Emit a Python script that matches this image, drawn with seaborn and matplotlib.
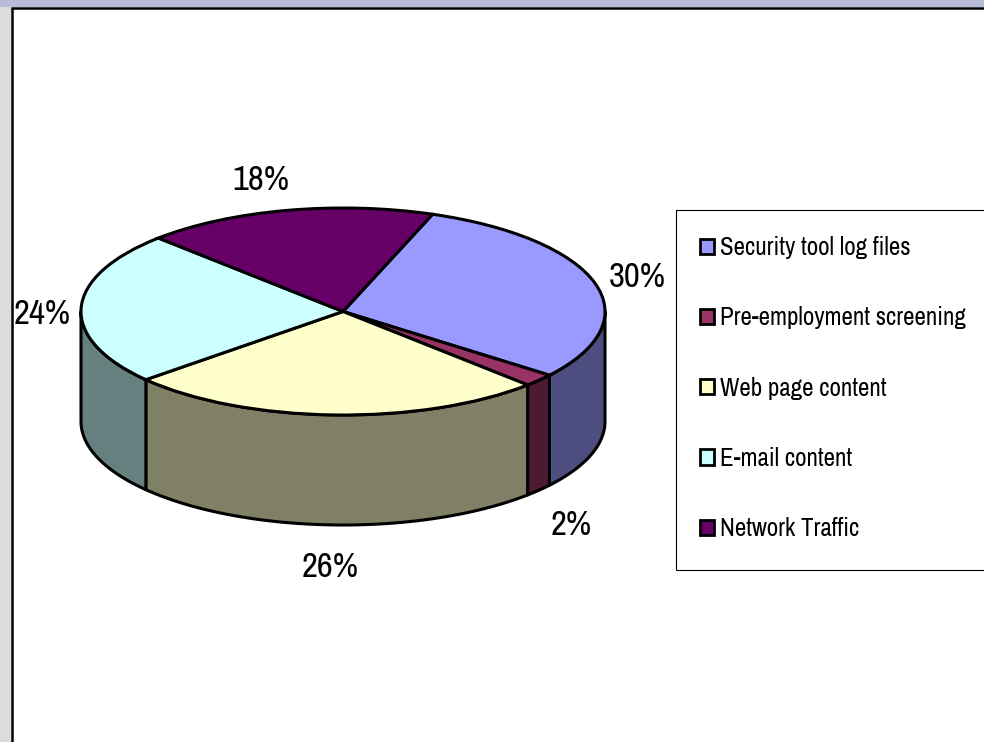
import numpy as np
import matplotlib
matplotlib.use("Agg")
import matplotlib.pyplot as plt
from matplotlib.patches import Patch, Rectangle, Polygon
import seaborn as sns

categories = ["Security tool log files", "Pre-employment screening", "Web page content",
              "E-mail content", "Network Traffic"]
shares = [30, 2, 26, 24, 18]
slice_colors = ["#9999FF", "#993366", "#FFFFCC", "#CCFFFF", "#660066"]
label_centres = [(637, 277), (571, 525), (330, 567), (42, 314), (261, 180)]

sns.set_theme(style="white")
plt.rcParams["font.family"] = ["Liberation Sans Narrow", "Archivo Narrow", "Roboto Condensed", "Liberation Sans"]
palette = sns.color_palette(slice_colors)

WIDTH, HEIGHT = 984, 742
fig = plt.figure(figsize=(WIDTH / 100, HEIGHT / 100), dpi=100, facecolor="white")

# Window chrome and the legend frame, laid out in pixel units
page = fig.add_axes([0, 0, 1, 1], zorder=0)
page.set(xlim=(0, WIDTH), ylim=(HEIGHT, 0))
page.axis("off")
page.add_patch(Rectangle((0, 0), WIDTH, 7, fc="#B8BCD8", ec="none"))
page.add_patch(Rectangle((0, 7), 11, HEIGHT, fc="#DCDCDC", ec="none"))
page.plot([12, 12, WIDTH], [HEIGHT, 7.5, 7.5], color="black", lw=1.8, solid_joinstyle="miter")
page.add_patch(Rectangle((675.5, 209.6), 320, 360, fc="white", ec="black", lw=0.8, zorder=1))

# Unit-circle axes stretched into the ellipse of the tilted pie
left, right, top, bottom = 81, 605, 208, 415
pie_ax = fig.add_axes([left / WIDTH, 1 - bottom / HEIGHT, (right - left) / WIDTH, (bottom - top) / HEIGHT],
                      zorder=2)
START, DEPTH = 70, 110 / 103.5
EDGE = 2.2

edges = START - np.cumsum([0] + shares) * 3.6
for high, low, colour in zip(edges[:-1], edges[1:], palette):
    # Only the part of a slice on the near half of the rim shows a wall
    a, b = max(low, -180), min(high, 0)
    if b <= a:
        continue
    t = np.radians(np.linspace(a, b, 120))
    rim = np.column_stack([np.cos(t), np.sin(t)])
    foot = rim[::-1] - [0, DEPTH]
    shade = tuple(0.5 * c for c in colour)
    pie_ax.add_patch(Polygon(np.vstack([rim, foot]), closed=True, fc=shade, ec="black",
                             lw=EDGE, clip_on=False, joinstyle="round"))

pie_ax.pie(shares, colors=palette, startangle=START, counterclock=False, radius=1,
           wedgeprops=dict(edgecolor="black", linewidth=EDGE, clip_on=False))
pie_ax.set_aspect("auto")
pie_ax.set(xlim=(-1, 1), ylim=(-1, 1))
pie_ax.axis("off")

for value, (x, y) in zip(shares, label_centres):
    page.text(x, y, f"{value}%", ha="center", va="center", fontsize=25, color="black", zorder=3)

handles = [Patch(facecolor=c, edgecolor="black", linewidth=2) for c in palette]
legend = page.legend(handles, categories, loc="upper left", bbox_to_anchor=(700, 236),
                     bbox_transform=page.transData, frameon=False, fontsize=18,
                     labelcolor="black", handlelength=0.56, handleheight=0.56, handletextpad=0.22,
                     labelspacing=1.89, borderpad=0, borderaxespad=0)
legend.set_zorder(3)

fig.savefig("out.png", dpi=100)
